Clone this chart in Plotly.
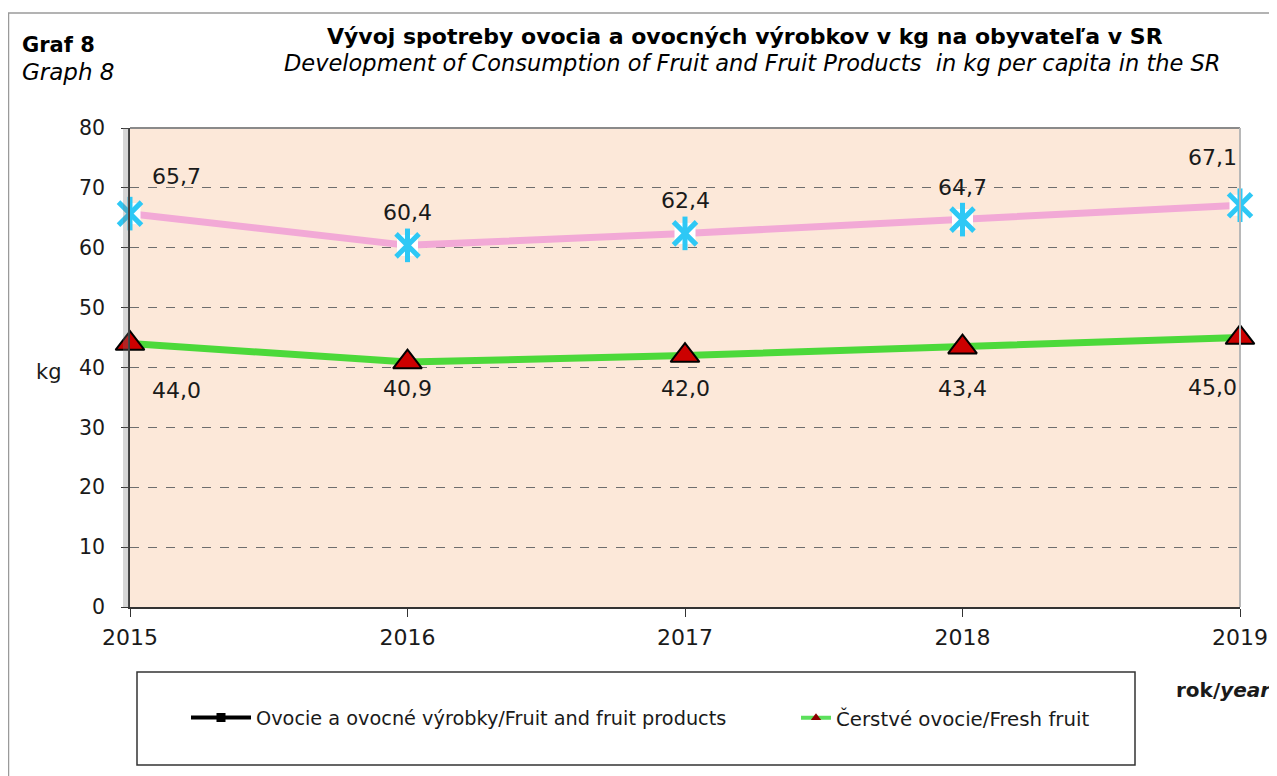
import plotly.graph_objects as go

years = [2015, 2016, 2017, 2018, 2019]
fruit_products = [65.7, 60.4, 62.4, 64.7, 67.1]
fresh_fruit = [44.0, 40.9, 42.0, 43.4, 45.0]
y_ticks = [0, 10, 20, 30, 40, 50, 60, 70, 80]

name_products = "Ovocie a ovocné výrobky/Fruit and fruit products"
name_fresh = "Čerstvé ovocie/Fresh fruit"

FONT = "Liberation Sans, Arial, sans-serif"
WIDE = "DejaVu Sans, Verdana, sans-serif"
CYAN = "#2EC8F5"

def fmt(v):
    return f"{v:.1f}".replace(".", ",")

fig = go.Figure()

# Fruit and fruit products: pink line + cyan "*" markers on white
fig.add_trace(go.Scatter(
    x=years, y=fruit_products, mode="lines", showlegend=False,
    line=dict(color="#F2A9D6", width=7), cliponaxis=False))
fig.add_trace(go.Scatter(
    x=years, y=fruit_products, mode="markers", showlegend=False,
    marker=dict(symbol="square", size=21, color="white",
                line=dict(width=0)), cliponaxis=False))
fig.add_trace(go.Scatter(
    x=years, y=fruit_products, mode="markers", showlegend=False,
    marker=dict(symbol="x-thin-open", size=23, color=CYAN,
                line=dict(color=CYAN, width=5)), cliponaxis=False))
fig.add_trace(go.Scatter(
    x=years, y=fruit_products, mode="markers", showlegend=False,
    marker=dict(symbol="line-ns-open", size=24, color=CYAN,
                line=dict(color=CYAN, width=5)), cliponaxis=False))

# Fresh fruit: green line + dark red triangles
fig.add_trace(go.Scatter(
    x=years, y=fresh_fruit, mode="lines+markers", showlegend=False,
    line=dict(color="#4CD93A", width=7),
    marker=dict(symbol="triangle-up", size=25, color="#CC0000",
                line=dict(color="#000000", width=2)),
    cliponaxis=False))

# legend entries as drawn in the reference
fig.add_trace(go.Scatter(
    x=[None], y=[None], mode="lines+markers", name=name_products,
    legend="legend",
    line=dict(color="#000000", width=4),
    marker=dict(symbol="square", size=9, color="#000000")))
fig.add_trace(go.Scatter(
    x=[None], y=[None], mode="lines+markers", name=name_fresh,
    legend="legend2",
    line=dict(color="#5CE05C", width=4),
    marker=dict(symbol="triangle-up", size=9, color="#8B0000")))

annotations = []
prod_xshift = [46, 0, 0, 0, -28]
prod_yshift = [37, 33, 33, 32, 48]
fresh_xshift = [46, 0, 0, 0, -28]
fresh_yshift = [-47, -26, -33, -41, -50]
for i, (x, v) in enumerate(zip(years, fruit_products)):
    annotations.append(dict(x=x, y=v, text=fmt(v), showarrow=False,
                            xshift=prod_xshift[i], yshift=prod_yshift[i],
                            font=dict(size=22, color="#1a1a1a", family=WIDE)))
for i, (x, v) in enumerate(zip(years, fresh_fruit)):
    annotations.append(dict(x=x, y=v, text=fmt(v), showarrow=False,
                            xshift=fresh_xshift[i], yshift=fresh_yshift[i],
                            font=dict(size=22, color="#1a1a1a", family=WIDE)))

# paper coordinate helpers in page pixels (plot area: x 130..1240, y 128..607)
def px(xp):
    return (xp - 130) / 1110
def py(yp):
    return (607 - yp) / 479

annotations += [
    dict(x=px(20), y=py(45), xref="paper", yref="paper", text="<b>Graf 8</b>",
         showarrow=False, xanchor="left", yanchor="middle",
         font=dict(size=21, color="#000", family=WIDE)),
    dict(x=px(20), y=py(72), xref="paper", yref="paper", text="<i>Graph 8</i>",
         showarrow=False, xanchor="left", yanchor="middle",
         font=dict(size=23, color="#000", family=WIDE)),
    dict(x=px(745), y=py(37), xref="paper", yref="paper",
         text="<b>Vývoj spotreby ovocia a ovocných výrobkov v kg na obyvateľa v SR</b>",
         showarrow=False, xanchor="center", yanchor="middle",
         font=dict(size=22, color="#000", family=WIDE)),
    dict(x=px(752), y=py(63), xref="paper", yref="paper",
         text="<i>Development of Consumption of Fruit and Fruit Products  in kg per capita in the SR</i>",
         showarrow=False, xanchor="center", yanchor="middle",
         font=dict(size=22.5, color="#000", family=WIDE)),
    dict(x=px(49), y=py(372), xref="paper", yref="paper", text="kg",
         showarrow=False, xanchor="center", yanchor="middle",
         font=dict(size=21, color="#1a1a1a", family=WIDE)),
    dict(x=px(1174), y=py(690), xref="paper", yref="paper",
         text="<b>rok/<i>year</i></b>",
         showarrow=False, xanchor="left", yanchor="middle",
         font=dict(size=20, color="#1a1a1a", family=WIDE)),
]

shapes = [
    # outer frame
    dict(type="rect", xref="paper", yref="paper", x0=px(8.5), y0=py(800),
         x1=px(1290), y1=py(13), line=dict(color="#9a9a9a", width=1.5),
         fillcolor="rgba(0,0,0,0)", layer="below"),
    # legend box
    dict(type="rect", xref="paper", yref="paper", x0=px(137), y0=py(765),
         x1=px(1135), y1=py(672), line=dict(color="#333333", width=1.5),
         fillcolor="white", layer="below"),
    # plot top border
    dict(type="line", xref="paper", yref="paper", x0=0, x1=1, y0=1, y1=1,
         line=dict(color="#8a8a8a", width=2)),
    # plot right border
    dict(type="line", xref="paper", yref="paper", x0=1, x1=1, y0=0, y1=1,
         line=dict(color="#b8b8b8", width=2)),
    # shadow next to y axis
    dict(type="rect", xref="paper", yref="paper", x0=px(123), x1=px(129.5),
         y0=0, y1=1, line=dict(width=0), fillcolor="rgba(120,120,120,0.3)"),
]

# the page body has an 8px margin: the figure is drawn 8px in from the corner
fig.update_layout(
    width=1269, height=768,
    margin=dict(l=122, r=37, t=120, b=169),
    paper_bgcolor="white",
    plot_bgcolor="#FCE8D9",
    font=dict(family=FONT, color="#1a1a1a", size=19),
    annotations=annotations,
    shapes=shapes,
    legend=dict(orientation="h", x=px(186), y=py(718), xanchor="left",
                yanchor="middle", bgcolor="rgba(0,0,0,0)",
                font=dict(size=19.3, color="#1a1a1a", family=WIDE),
                itemwidth=60),
    legend2=dict(orientation="h", x=px(796), y=py(718), xanchor="left",
                 yanchor="middle", bgcolor="rgba(0,0,0,0)",
                 font=dict(size=19.8, color="#1a1a1a", family=WIDE),
                 itemwidth=30),
)

fig.update_xaxes(
    range=[2015, 2019], tickmode="array", tickvals=years, automargin=False,
    ticktext=[str(y) for y in years], showgrid=False, zeroline=False,
    showline=True, linecolor="#333333", linewidth=1.5,
    ticks="outside", ticklen=8, tickcolor="#333333", ticklabelstandoff=2,
    tickfont=dict(size=22, color="#1a1a1a", family=WIDE))
fig.update_yaxes(
    range=[0, 80], tickmode="array", tickvals=y_ticks, automargin=False,
    showgrid=True, gridcolor="#6e6e6e", griddash="dash", gridwidth=1,
    zeroline=False, showline=True, linecolor="#333333", linewidth=1.5,
    ticks="outside", ticklen=7, tickcolor="#333333", ticklabelstandoff=12,
    tickfont=dict(size=20.5, color="#1a1a1a", family=WIDE))

fig.write_html("out.html")
